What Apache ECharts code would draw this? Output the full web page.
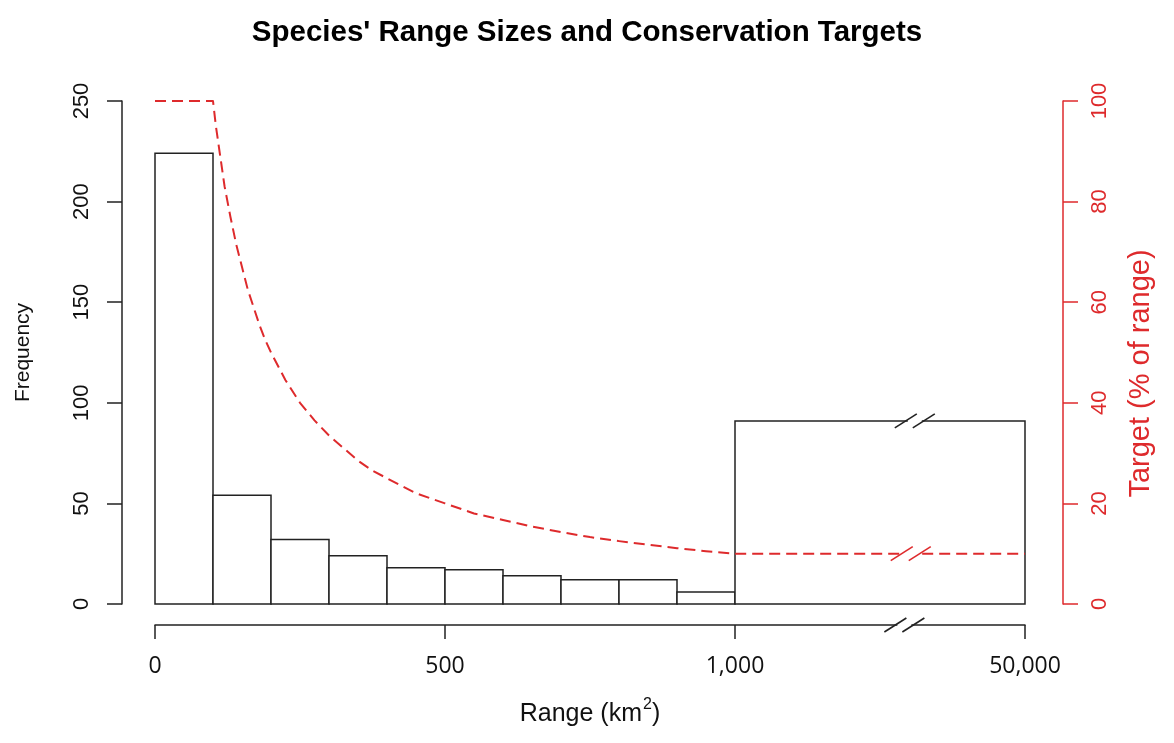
<!DOCTYPE html>
<html>
<head>
<meta charset="utf-8">
<script src="https://cdn.jsdelivr.net/npm/echarts@6/dist/echarts.min.js"></script>
<style>html,body{margin:0;padding:0;background:#fff}#c{width:1174px;height:743px}</style>
</head>
<body>
<div id="c"></div>
<script>
// ---- data ----
// histogram bin edges (the last bin 1,000–50,000 is drawn compressed, plotted 1000–1500)
var binEdges = [0, 100, 200, 300, 400, 500, 600, 700, 800, 900, 1000, 1500];
var binCounts = [224, 54, 32, 24, 18, 17, 14, 12, 12, 6, 91];
// conservation target curve (x in plotted range units, y in % of range)
var targetX = [0, 100, 105, 110, 120, 130, 140, 150, 160, 170, 180, 190, 200, 225, 250, 275, 300, 325, 350, 375, 400, 450, 500, 550, 600, 650, 700, 750, 800, 850, 900, 950, 1000, 1500];
var targetY = [100, 100, 95, 91, 83, 77, 71.5, 67, 62.5, 59, 55.5, 52.5, 50, 44.5, 40, 36.5, 33.5, 31, 28.5, 26.5, 25, 22, 20, 18, 16.7, 15.4, 14.3, 13.3, 12.5, 11.8, 11.1, 10.5, 10, 10];
// x tick labels
var xTickValues = [0, 500, 1000, 1500];
var xTickLabels = ['0', '500', '1,000', '50,000'];

var RED = '#de2a2c';
var INK = '#222';
var FONT = 'Liberation Sans, Arial, sans-serif';

var chart = echarts.init(document.getElementById('c'), null, {renderer: 'canvas'});

var bars = [];
for (var i = 0; i < binCounts.length; i++) bars.push([binEdges[i], binEdges[i + 1], binCounts[i]]);
var linePts = targetX.map(function (x, i) { return [x, targetY[i]]; });

var option = {
  animation: false,
  backgroundColor: '#fff',
  title: {
    text: "Species' Range Sizes and Conservation Targets",
    left: 'center', top: 13,
    textStyle: {fontFamily: FONT, fontSize: 29.5, fontWeight: 'bold', color: '#000'}
  },
  grid: {left: 155, right: 149, top: 101, bottom: 139, containLabel: false},
  xAxis: {
    type: 'value', min: 0, max: 1500, interval: 500, offset: 21,
    axisLine: {show: true, onZero: false, lineStyle: {color: INK, width: 1.5}},
    axisTick: {show: true, length: 14, lineStyle: {color: INK, width: 1.5}},
    splitLine: {show: false},
    axisLabel: {
      margin: 30, color: '#111', fontFamily: 'Open Sans, sans-serif', fontSize: 23,
      formatter: function (v) { var k = xTickValues.indexOf(v); return k >= 0 ? xTickLabels[k] : ''; }
    },
    name: '{a|Range (km}{s|2}{a|)}', nameLocation: 'middle', nameGap: 72,
    nameTextStyle: {
      fontFamily: FONT, fontSize: 25, color: '#111',
      rich: {
        a: {fontFamily: FONT, fontSize: 25, color: '#111', lineHeight: 30, verticalAlign: 'bottom'},
        s: {fontFamily: FONT, fontSize: 16, color: '#111', lineHeight: 30, verticalAlign: 'top', padding: [0, 0, 0, 1]}
      }
    }
  },
  yAxis: [{
    type: 'value', min: 0, max: 250, interval: 50, offset: 33, position: 'left',
    axisLine: {show: true, onZero: false, lineStyle: {color: INK, width: 1.5}},
    axisTick: {show: true, length: 15, lineStyle: {color: INK, width: 1.5}},
    splitLine: {show: false},
    axisLabel: {rotate: 90, margin: 29, color: '#111', fontFamily: FONT, fontSize: 22},
    name: 'Frequency', nameLocation: 'middle', nameGap: 88, nameRotate: 90,
    nameTextStyle: {fontFamily: FONT, fontSize: 21, color: '#111'}
  }, {
    type: 'value', min: 0, max: 100, interval: 20, offset: 38, position: 'right',
    axisLine: {show: true, onZero: false, lineStyle: {color: RED, width: 1.5}},
    axisTick: {show: true, length: 15, lineStyle: {color: RED, width: 1.5}},
    splitLine: {show: false},
    axisLabel: {rotate: 90, margin: 26, color: RED, fontFamily: FONT, fontSize: 22},
    name: ''
  }],
  series: [{
    type: 'custom',
    xAxisIndex: 0, yAxisIndex: 0,
    data: bars,
    encode: {x: [0, 1], y: 2},
    renderItem: function (params, api) {
      var p0 = api.coord([api.value(0), api.value(2)]);
      var p1 = api.coord([api.value(1), 0]);
      return {
        type: 'rect',
        shape: {x: p0[0], y: p0[1], width: p1[0] - p0[0], height: p1[1] - p0[1]},
        style: {fill: '#fff', stroke: INK, lineWidth: 1.5}
      };
    },
    z: 2
  }, {
    type: 'line',
    xAxisIndex: 0, yAxisIndex: 1,
    data: linePts,
    showSymbol: false, symbol: 'none',
    lineStyle: {color: RED, width: 2, type: [11, 6], join: 'round'},
    z: 3
  }]
};
chart.setOption(option);

// break marks "//" placed through the chart's own coordinate conversion
function breakMark(px, py, color) {
  var els = [];
  els.push({type: 'rect', shape: {x: px - 7, y: py - 3, width: 14, height: 6}, style: {fill: '#fff'}, z: 100});
  [-9, 9].forEach(function (dx) {
    els.push({type: 'line', shape: {x1: px + dx - 11, y1: py + 7, x2: px + dx + 11, y2: py - 7},
      style: {stroke: color, lineWidth: 1.6}, z: 101});
  });
  return els;
}
var lastBar = binCounts.length - 1;
var pTop = chart.convertToPixel({xAxisIndex: 0, yAxisIndex: 0}, [1310, binCounts[lastBar]]);
var pLine = chart.convertToPixel({xAxisIndex: 0, yAxisIndex: 1}, [1303, targetY[targetY.length - 1]]);
var pAxis = chart.convertToPixel({xAxisIndex: 0, yAxisIndex: 0}, [1292, 0]);
var pMid = chart.convertToPixel({xAxisIndex: 0, yAxisIndex: 1}, [1500, 50]);
var g = [].concat(
  breakMark(pTop[0], pTop[1], INK),
  breakMark(pLine[0], pLine[1], RED),
  breakMark(pAxis[0], pAxis[1] + 21, INK)
);
// right axis title
g.push({
  type: 'text', x: pMid[0] + 116, y: pMid[1] + 21, rotation: Math.PI / 2, z: 50,
  style: {text: 'Target (% of range)', fill: RED, font: '29px ' + FONT, align: 'center', verticalAlign: 'middle'}
});
chart.setOption({graphic: g});
</script>
</body>
</html>
